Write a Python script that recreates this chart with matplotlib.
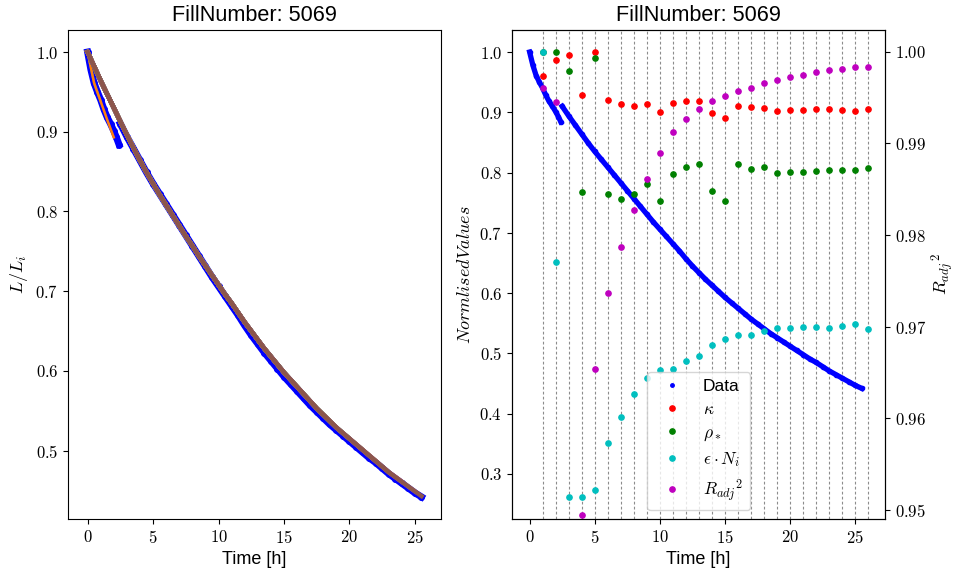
import matplotlib
matplotlib.use('Agg')
import matplotlib.pyplot as plt
import numpy as np
from matplotlib.lines import Line2D
from matplotlib.ticker import FuncFormatter, MultipleLocator

plt.rcParams['font.family'] = ['Liberation Sans', 'DejaVu Sans']
plt.rcParams['mathtext.fontset'] = 'cm'
plt.rcParams['font.size'] = 13
plt.rcParams['xtick.labelsize'] = 12
plt.rcParams['ytick.labelsize'] = 12

# measured luminosity (normalised), two pieces with a jump near 2.4 h
t_seg1 = [0.0, 0.25, 0.5, 0.75, 1.0, 1.25, 1.5, 1.75, 2.0, 2.2, 2.4]
L_seg1 = [1.000, 0.978, 0.961, 0.950, 0.940, 0.928, 0.918, 0.910, 0.901, 0.893, 0.884]

t_seg2 = np.arange(2.5, 25.51, 0.5)
L_seg2 = [0.910, 0.894, 0.879, 0.864, 0.849, 0.835, 0.822, 0.809, 0.796, 0.783,
          0.770, 0.757, 0.744, 0.731, 0.718, 0.706, 0.694, 0.682, 0.670, 0.657,
          0.645, 0.634, 0.623, 0.613, 0.603, 0.593, 0.584, 0.575, 0.566, 0.557,
          0.549, 0.541, 0.533, 0.526, 0.519, 0.512, 0.505, 0.498, 0.491, 0.485,
          0.478, 0.471, 0.465, 0.459, 0.453, 0.447, 0.442]

# fitted curves
fit_t = np.arange(0, 25.51, 0.5)
fit_L = [1.000, 0.982, 0.964, 0.947, 0.930, 0.913, 0.896, 0.880, 0.864, 0.849,
         0.835, 0.821, 0.808, 0.795, 0.782, 0.769, 0.757, 0.744, 0.732, 0.720,
         0.708, 0.696, 0.685, 0.673, 0.661, 0.650, 0.639, 0.628, 0.618, 0.608,
         0.598, 0.589, 0.580, 0.571, 0.562, 0.553, 0.545, 0.537, 0.529, 0.522,
         0.515, 0.508, 0.501, 0.494, 0.487, 0.480, 0.473, 0.467, 0.461, 0.455,
         0.449, 0.443]
fit_low_t = [0.0, 0.5, 1.0, 1.5, 2.0]
fit_low_L = [1.000, 0.961, 0.938, 0.915, 0.893]

# fit parameters per time window
par_t = np.arange(1, 27)
kappa = [0.961, 0.986, 0.995, 0.929, 1.000, 0.920, 0.913, 0.911, 0.913, 0.901,
         0.916, 0.919, 0.919, 0.899, 0.890, 0.910, 0.908, 0.907, 0.903, 0.904,
         0.904, 0.905, 0.905, 0.904, 0.903, 0.906]
rho = [1.000, 1.000, 0.968, 0.768, 0.990, 0.765, 0.757, 0.765, 0.781, 0.753,
       0.797, 0.810, 0.814, 0.770, 0.753, 0.814, 0.806, 0.809, 0.800, 0.801,
       0.801, 0.803, 0.805, 0.805, 0.805, 0.807]
eps = [1.000, 0.651, 0.262, 0.262, 0.274, 0.351, 0.394, 0.432, 0.459, 0.472,
       0.474, 0.488, 0.495, 0.514, 0.524, 0.531, 0.531, 0.538, 0.543, 0.542,
       0.544, 0.544, 0.543, 0.545, 0.548, 0.541]
r2 = [0.9960, 0.9945, np.nan, 0.9494, 0.9654, 0.9737, 0.9787, 0.9827, 0.9861, 0.9890,
      0.9913, 0.9927, 0.9938, 0.9946, 0.9952, 0.9957, 0.9961, 0.9966, 0.9969, 0.9972,
      0.9975, 0.9978, 0.9980, 0.9981, 0.9983, 0.9983]

fig, (ax1, ax2) = plt.subplots(1, 2, figsize=(9.57, 5.73), dpi=100)
fig.subplots_adjust(left=0.071, right=0.925, bottom=0.094, top=0.948, wspace=0.19)

# left: data + all the fits
ax1.plot(t_seg1, L_seg1, color='b', lw=5, marker='.', ms=8)
ax1.plot(t_seg2, L_seg2, color='b', lw=5, marker='.', ms=8)
for k, end in enumerate(par_t):
    if k < 2:
        tt, ll, w = np.array(fit_low_t), np.array(fit_low_L), 1.8
    else:
        tt, ll, w = fit_t, np.array(fit_L), 3.2
    m = tt <= end + 1e-9
    ax1.plot(tt[m], ll[m], lw=w)
ax1.set_xlim(-1.5, 27)
ax1.set_title('FillNumber: 5069')
ax1.set_xlabel('Time [h]')
ax1.set_ylabel(r'$L/L_i$')
ax1.yaxis.set_major_locator(MultipleLocator(0.1))
ax1.xaxis.set_major_locator(MultipleLocator(5))
ax1.yaxis.set_major_formatter(FuncFormatter(lambda v, p: f'${v:.1f}$'))
ax1.xaxis.set_major_formatter(FuncFormatter(lambda v, p: f'${v:.0f}$'))

# right: normalised fit parameters
for k in par_t:
    ax2.axvline(k, color='0.55', ls='--', lw=0.8, dashes=(2.5, 2))
ax2.plot(t_seg1, L_seg1, color='b', lw=3.8, marker='.', ms=6)
ax2.plot(t_seg2, L_seg2, color='b', lw=3.8, marker='.', ms=6)
ax2.plot(par_t, kappa, 'o', color='r', ms=3.8)
ax2.plot(par_t, rho, 'o', color='g', ms=3.8)
ax2.plot(par_t, eps, 'o', color='c', ms=3.8)
ax2.set_xlim(-1.35, 27.3)
ax2.set_title('FillNumber: 5069')
ax2.set_xlabel('Time [h]')
ax2.set_ylabel(r'$Normlised Values$')
ax2.yaxis.set_major_locator(MultipleLocator(0.1))
ax2.xaxis.set_major_locator(MultipleLocator(5))
ax2.yaxis.set_major_formatter(FuncFormatter(lambda v, p: f'${v:.1f}$'))
ax2.xaxis.set_major_formatter(FuncFormatter(lambda v, p: f'${v:.0f}$'))

ax3 = ax2.twinx()
ax3.plot(par_t, r2, 'o', color='m', ms=3.8)
ax3.set_ylim(0.949, 1.0024)
ax3.yaxis.set_major_locator(MultipleLocator(0.01))
ax3.yaxis.set_major_formatter(FuncFormatter(lambda v, p: f'${v:.2f}$'))
ax3.set_ylabel(r'${R_{adj}}^2$', labelpad=2)

handles = [
    Line2D([], [], color='b', marker='.', ls='none', ms=5),
    Line2D([], [], color='r', marker='o', ls='none', ms=3.8),
    Line2D([], [], color='g', marker='o', ls='none', ms=3.8),
    Line2D([], [], color='c', marker='o', ls='none', ms=3.8),
    Line2D([], [], color='m', marker='o', ls='none', ms=3.8),
]
labels = ['Data', r'$\kappa$', r'$\rho_*$', r'$\epsilon \cdot N_i$', r'${R_{adj}}^2$']
ax3.legend(handles, labels, loc='lower center', fontsize=12.5, labelspacing=0.45)

fig.savefig('out.png', dpi=100)
